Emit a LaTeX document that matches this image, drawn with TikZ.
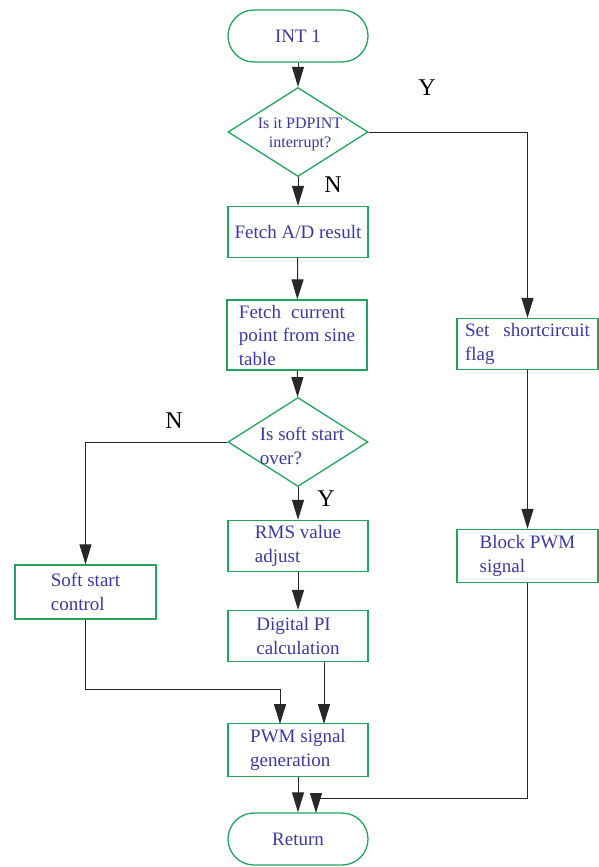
\documentclass[tikz,border=0pt]{standalone}
\usepackage{fontspec}
\setmainfont{Liberation Serif}
\usetikzlibrary{shapes.geometric,arrows.meta}

\definecolor{boxgreen}{RGB}{34,164,90}
\definecolor{textblue}{RGB}{58,58,158}
\definecolor{linegray}{RGB}{40,40,40}

\tikzset{
    procbox/.style={draw=boxgreen, line width=1.3pt, rectangle, minimum width=140pt, minimum height=51pt,
        inner sep=0pt, text=textblue, font=\fontsize{19}{23.5}\selectfont, align=left},
    termbox/.style={draw=boxgreen, line width=1.3pt, rectangle, rounded corners=26pt, minimum width=140pt,
        minimum height=52pt, inner sep=0pt, text=textblue, font=\fontsize{19}{23.5}\selectfont},
    decision/.style={draw=boxgreen, line width=1.3pt, diamond, minimum width=140pt, minimum height=89pt,
        inner sep=0pt},
    dtext/.style={inner sep=0pt, text=textblue, font=\fontsize{19}{23.5}\selectfont, align=left},
    arr/.style={draw=linegray, line width=1pt, -{Triangle[width=12pt,length=20pt]}},
    yn/.style={font=\fontsize{24}{24}\selectfont}
}

\begin{document}
\begin{tikzpicture}[x=1pt, y=-1pt]
    \useasboundingbox (0, 0) rectangle (598, 867);

    % main column
    \node[termbox] (int) at (298, 36) {INT 1};
    \node[decision] (pdp) at (298, 132) {};
    \node[dtext, font=\fontsize{16}{19}\selectfont, align=center] (pdptext) at (300, 134) {Is it PDPINT\\interrupt?};
    \node[procbox] (fetchad) at (298, 232) {Fetch A/D result};
    \node[procbox, minimum height=70pt] (fetchsin) at (297, 335)
        {Fetch\hspace{10pt}current\\point from sine\\table};
    \node[decision] (soft) at (298, 442) {};
    \node[dtext] (softtext) at (302, 446) {Is soft start\\over?};
    \node[procbox] (rms) at (298, 546) {RMS value\\adjust};
    \node[procbox] (pi) at (298, 636) {Digital PI\\calculation};
    \node[procbox, minimum height=53pt] (pwm) at (298, 750) {PWM signal\\generation};
    \node[termbox] (ret) at (298, 839) {Return};

    % side columns
    \node[procbox, minimum height=54pt, minimum width=141pt] (ssc) at (85.5, 592) {Soft start\\control};
    \node[procbox, minimum width=141pt] (flag) at (527.5, 344)
        {Set\hspace{14pt}shortcircuit\\flag};
    \node[procbox, minimum width=141pt, minimum height=53pt] (block) at (527.5, 556) {Block PWM\\signal};

    \coordinate (pwmin1) at (280, 724);
    \coordinate (pwmin2) at (324, 724);
    \coordinate (retin) at (316, 813);

    % connectors
    \draw[arr] (int) -- (pdp);
    \draw[arr] (pdp) -- (fetchad);
    \draw[arr] (fetchad) -- (fetchsin);
    \draw[arr] (fetchsin) -- (soft);
    \draw[arr] (soft) -- (rms);
    \draw[arr] (rms) -- (pi);
    \draw[arr] (pwm) -- (ret);
    \draw[arr] (pdp.east) -| (flag.north);
    \draw[arr] (flag) -- (block);
    \draw[arr] (soft.west) -| (ssc.north);
    \draw[arr] (ssc.south) |- (280, 689) -- (pwmin1);
    \draw[arr] (pi.south -| pwmin2) -- (pwmin2);
    \draw[arr] (block.south) |- (316, 798) -- (retin);

    % branch labels
    \node[yn] (y1) at (427, 88) {Y};
    \node[yn] (n1) at (333, 185) {N};
    \node[yn] (n2) at (174, 421) {N};
    \node[yn] (y2) at (326, 499) {Y};
\end{tikzpicture}
\end{document}
